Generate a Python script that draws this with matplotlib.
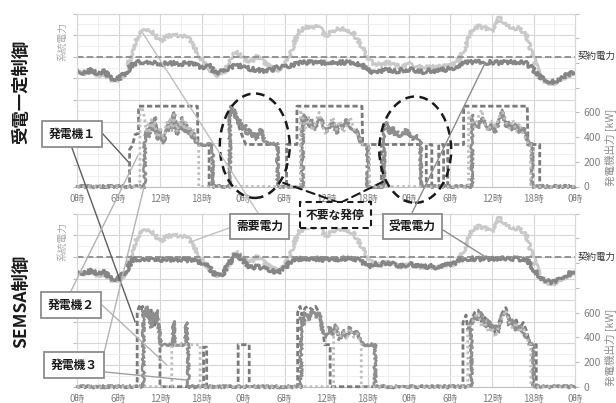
import matplotlib.pyplot as plt
from matplotlib.patches import ConnectionPatch, Ellipse

plt.rcParams['font.family'] = ['Noto Sans CJK JP', 'DejaVu Sans']

# hourly grid for the system-side traces (3 days)
HOURS = list(range(73))
TICK_HOURS = list(range(0, 73, 6))
TICK_LABELS = ['0時', '6時', '12時', '18時'] * 3 + ['0時']

CONTRACT = 1200  # contract power (system axis units)

# building demand, same for both control schemes
DEMAND = [1060, 1040, 1050, 1030, 1040, 980, 990, 1030, 1260, 1420,
          1450, 1430, 1340, 1390, 1400, 1390, 1380, 1290, 1180, 1100,
          1025, 1035, 1140, 1250, 1190, 1150, 1200, 1150, 1110, 1080,
          1110, 1260, 1430, 1470, 1480, 1470, 1390, 1440, 1460, 1450,
          1420, 1310, 1200, 1130, 1130, 1150, 1120, 1110, 1130, 1120,
          1100, 1110, 1100, 1120, 1120, 1150, 1270, 1430, 1480, 1470,
          1430, 1560, 1510, 1460, 1470, 1390, 1190, 1000, 960, 950,
          990, 1030, 1040]

# received power, constant-receiving control
RECV_TOP = [1080, 1050, 1075, 1040, 1065, 990, 1000, 1045, 1130, 1150,
            1155, 1150, 1130, 1140, 1140, 1135, 1140, 1125, 1100, 1125,
            1050, 1065, 1100, 1120, 1110, 1090, 1080, 1070, 1075, 1100,
            1110, 1120, 1140, 1150, 1145, 1150, 1140, 1150, 1145, 1150,
            1140, 1130, 1080, 1050, 1070, 1080, 1065, 1075, 1085, 1070,
            1060, 1075, 1065, 1080, 1090, 1110, 1140, 1150, 1150, 1145,
            1150, 1145, 1150, 1150, 1145, 1140, 1080, 1010, 980, 965,
            1000, 1040, 1050]

# received power, SEMSA control
RECV_BOT = [1070, 1050, 1070, 1045, 1060, 990, 1000, 1060, 1175, 1180,
            1185, 1180, 1175, 1180, 1175, 1180, 1170, 1160, 1150, 1110,
            1030, 1040, 1140, 1230, 1170, 1100, 1110, 1095, 1080, 1050,
            1100, 1160, 1180, 1180, 1185, 1180, 1175, 1180, 1180, 1185,
            1180, 1170, 1110, 1135, 1135, 1155, 1125, 1115, 1135, 1125,
            1105, 1115, 1105, 1125, 1125, 1155, 1180, 1185, 1180, 1185,
            1180, 1185, 1180, 1185, 1180, 1175, 1090, 1005, 975, 965,
            1000, 1045, 1055]

# generator outputs [kW], constant-receiving control
G1_TOP_T = [0, 7.6, 7.6, 8.0, 8.4, 8.9, 8.9, 17.4, 17.5, 19.1, 19.1,
            22.1, 22.1, 22.8, 23.6, 24.4, 29.1, 29.1, 30.3, 30.3, 31.8,
            31.8, 41.2, 41.3, 44.0, 44.0, 44.4, 44.4, 49.7, 49.7, 50.5,
            50.5, 51.3, 51.3, 52.3, 52.3, 53.0, 53.0, 53.6, 53.6, 55.9,
            55.9, 65.1, 65.2, 66.9, 66.9, 72]
G1_TOP_KW = [0, 0, 300, 330, 420, 430, 650, 650, 340, 340, 0,
             0, 600, 620, 450, 340, 340, 0, 0, 340, 340,
             650, 650, 340, 340, 0, 0, 340, 340, 0, 0,
             340, 340, 0, 0, 340, 340, 0, 0, 340, 340,
             650, 650, 340, 340, 0, 0]

G2_TOP_T = [0, 9.1, 9.1, 9.5, 9.75, 10.0, 10.25, 10.5, 10.75, 11.0,
            11.25, 11.5, 11.75, 12.0, 12.25, 12.5, 12.75, 13.0, 13.25, 13.5,
            13.75, 14.0, 14.25, 14.5, 14.75, 15.0, 15.25, 15.5, 15.75, 16.0,
            16.25, 16.5, 16.75, 17.0, 17.25, 17.6, 17.6,
            32.3, 32.3, 32.75, 33.0, 33.5, 34.0, 34.5, 35.0, 35.5, 36.0,
            36.5, 37.0, 37.5, 38.0, 38.5, 39.0, 39.5, 40.0, 40.5, 41.0,
            41.3, 42.3, 42.3,
            56.6, 56.6, 57.0, 57.5, 58.0, 58.5, 59.0, 59.5, 60.0, 60.5,
            61.0, 61.5, 62.0, 62.5, 63.0, 63.5, 64.0, 64.5, 65.0, 65.3,
            65.6, 65.6, 72]
G2_TOP_KW = [0, 0, 640, 620, 560, 450, 500, 430, 540, 470,
             520, 410, 400, 480, 430, 380, 450, 520, 480, 560,
             450, 580, 500, 440, 530, 480, 540, 460, 520, 450,
             490, 410, 470, 420, 380, 340, 0,
             0, 620, 540, 470, 560, 450, 520, 600, 480, 420,
             510, 560, 460, 530, 440, 500, 560, 470, 420, 380,
             340, 340, 0,
             0, 600, 540, 480, 560, 620, 500, 450, 530, 470,
             560, 600, 520, 470, 540, 450, 510, 420, 380, 340,
             340, 0, 0]

G3_TOP_T = [0, 9.8, 9.8, 10.0, 10.25, 10.5, 10.75, 11.0, 11.25, 11.5,
            11.75, 12.0, 12.25, 12.5, 12.75, 13.0, 13.25, 13.5, 13.75, 14.0,
            14.25, 14.5, 14.75, 15.0, 15.25, 15.5, 15.75, 16.0, 16.25, 16.5,
            16.75, 17.0, 17.25, 17.5, 19.6, 19.6,
            22.1, 22.1, 22.4, 22.7, 23.0, 23.3, 23.6, 24.0, 24.3, 24.6,
            25.0, 25.3, 25.6, 26.0, 26.3, 26.6, 27.0, 27.4, 29.0, 29.0,
            32.6, 32.6, 32.75, 33.0, 33.5, 34.0, 34.5, 35.0, 35.5, 36.0,
            36.5, 37.0, 37.5, 38.0, 38.5, 39.0, 39.5, 40.0, 40.5, 41.0,
            41.3, 42.0, 42.0,
            44.4, 44.4, 44.7, 45.0, 45.3, 45.6, 46.0, 46.3, 46.6, 47.0,
            47.3, 47.6, 48.0, 48.3, 48.6, 49.0, 49.3, 49.7, 49.7,
            57.1, 57.1, 57.5, 58.0, 58.5, 59.0, 59.5, 60.0, 60.5, 61.0,
            61.5, 62.0, 62.5, 63.0, 63.5, 64.0, 64.5, 65.0, 65.3, 65.8,
            65.8, 72]
G3_TOP_KW = [0, 0, 380, 420, 480, 400, 520, 450, 560, 430,
             380, 460, 400, 350, 420, 500, 450, 540, 470, 600,
             480, 420, 510, 460, 560, 440, 500, 430, 470, 390,
             450, 400, 360, 340, 340, 0,
             0, 620, 650, 560, 600, 500, 540, 460, 500, 420,
             460, 400, 430, 380, 440, 460, 380, 350, 340, 0,
             0, 560, 500, 580, 480, 540, 460, 560, 520, 440,
             480, 520, 430, 500, 470, 540, 480, 440, 460, 360,
             340, 340, 0,
             0, 480, 520, 460, 430, 480, 420, 450, 400, 440,
             420, 460, 400, 430, 380, 420, 390, 350, 0,
             0, 580, 520, 470, 560, 520, 460, 500, 440, 530,
             620, 480, 520, 460, 500, 440, 480, 400, 340, 340,
             0, 0]

# generator outputs [kW], SEMSA control
G1_BOT_T = [0, 8.7, 8.7, 9.0, 9.25, 9.5, 9.75, 10.0, 10.25, 10.5,
            10.75, 11.0, 11.25, 11.5, 11.75, 12.0, 12.0,
            18.3, 18.3, 18.75, 18.75,
            23.3, 23.3, 24.9, 24.9,
            31.9, 31.9, 32.25, 32.5, 33.0, 33.5, 34.0, 34.5, 35.0, 35.5,
            35.8, 36.6, 36.6,
            55.8, 55.8, 56.25, 56.5, 57.0, 57.5, 58.0, 58.5, 59.0, 59.5,
            60.0, 60.5, 61.0, 61.5, 62.0, 62.5, 63.0, 63.5, 64.0, 64.5,
            65.0, 65.5, 66.4, 66.4, 72]
G1_BOT_KW = [0, 0, 600, 650, 620, 650, 560, 640, 600, 520,
             620, 580, 480, 600, 540, 460, 0,
             0, 320, 320, 0,
             0, 340, 340, 0,
             0, 600, 650, 580, 640, 650, 620, 650, 600, 480,
             340, 340, 0,
             0, 520, 580, 460, 540, 600, 620, 520, 560, 470,
             500, 430, 520, 600, 640, 560, 500, 540, 460, 520,
             450, 340, 340, 0, 0]

G2_BOT_T = [0, 13.7, 13.7, 17.8, 17.8,
            37.1, 37.1, 37.5, 38.0, 38.5, 39.0, 39.5, 40.0, 40.5, 41.0,
            41.1, 41.1,
            56.5, 56.5, 57.0, 57.5, 58.0, 58.5, 59.0, 59.5, 60.0, 60.5,
            61.0, 61.5, 62.0, 62.5, 63.0, 63.5, 64.0, 64.5, 65.0, 65.3,
            65.6, 65.6, 72]
G2_BOT_KW = [0, 0, 340, 340, 0,
             0, 420, 480, 400, 440, 380, 470, 400, 430, 360,
             340, 0,
             0, 460, 500, 560, 600, 480, 520, 440, 480, 400,
             500, 560, 620, 520, 470, 520, 440, 480, 420, 340,
             340, 0, 0]

G3_BOT_T = [0, 9.6, 9.6, 9.75, 10.0, 10.25, 10.5, 10.75, 11.0, 11.25,
            11.5, 11.75, 12.0, 12.1, 13.9, 14.0, 14.1, 15.7, 15.8, 15.9,
            16.1, 16.1,
            32.4, 32.4, 32.75, 33.0, 33.5, 34.0, 34.5, 35.0, 35.5, 36.0,
            36.5, 37.0, 37.5, 38.0, 38.5, 39.0, 39.5, 40.0, 40.5, 41.0,
            41.3, 43.1, 43.1,
            57.0, 57.0, 57.5, 58.0, 58.5, 59.0, 59.5, 60.0, 60.5, 61.0,
            61.5, 62.0, 62.5, 63.0, 63.5, 64.0, 64.5, 65.0, 65.5, 66.0,
            66.0, 72]
G3_BOT_KW = [0, 0, 620, 580, 650, 560, 620, 480, 600, 540,
             620, 500, 400, 340, 340, 530, 340, 340, 520, 340,
             340, 0,
             0, 560, 500, 600, 540, 620, 560, 600, 450, 400,
             480, 420, 500, 380, 460, 400, 480, 420, 450, 370,
             340, 340, 0,
             0, 500, 580, 540, 600, 480, 540, 460, 500, 440,
             580, 600, 500, 540, 460, 500, 440, 400, 340, 340,
             0, 0]

W, H = 616, 403
GRAY_TXT = '#7f7f7f'


def px_rect(left, top, right, bottom):
    return [left / W, 1 - bottom / H, (right - left) / W, (bottom - top) / H]


def make_panel(fig, rect, recv, gens):
    ax = fig.add_axes(rect)        # system power (left, unlabeled)
    ax2 = ax.twinx()               # generator output (right)

    ax.set_xlim(0, 72)
    ax.set_ylim(0, 1600)
    ax.set_xticks(TICK_HOURS)
    ax.set_xticklabels(TICK_LABELS)
    ax.set_xticks(range(0, 73, 3), minor=True)
    ax.set_yticks(range(0, 1601, 200))
    ax.set_yticks(range(0, 1601, 100), minor=True)
    ax.set_yticklabels([])
    ax.tick_params(axis='x', which='both', length=0, labelsize=7,
                   labelcolor=GRAY_TXT, pad=5.5)
    ax.tick_params(axis='y', which='major', length=3, color='#bfbfbf')
    ax.tick_params(axis='y', which='minor', length=0)
    ax.grid(which='major', color='#d6d6d6', lw=0.8)
    ax.grid(which='minor', color='#ececec', lw=0.6)
    ax.set_axisbelow(True)

    for side in ('left', 'right', 'top'):
        ax.spines[side].set_color('#d9d9d9')
        ax2.spines[side].set_color('#d9d9d9')
    ax.spines['bottom'].set_color('#bfbfbf')
    ax2.spines['bottom'].set_visible(False)

    dem, = ax.plot(HOURS, DEMAND, color='#c9c9c9', lw=2.0, zorder=3)
    rec, = ax.plot(HOURS, recv, color='#858585', lw=2.2, zorder=4)
    dem.set_sketch_params(1.8, 2.2, 16)
    rec.set_sketch_params(2.0, 2.0, 16)
    ax.axhline(CONTRACT, color='#8c8c8c', lw=1.3, ls=(0, (3.6, 1.8)), zorder=5)
    ax.text(1.005, CONTRACT, '契約電力', transform=ax.get_yaxis_transform(),
            ha='left', va='center', fontsize=6.8, color='#333333')
    ax.text(-0.03, 0.84, '系統電力', transform=ax.transAxes, rotation=90,
            ha='center', va='center', fontsize=7, color='#ababab')

    ax2.set_ylim(0, 1400)
    ax2.set_yticks(range(0, 1401, 200))
    ax2.set_yticklabels(['0', '200', '400', '600', '', '', '', ''])
    ax2.tick_params(axis='y', length=3, color='#bfbfbf', labelsize=7.5,
                    labelcolor=GRAY_TXT, pad=3)
    ax2.set_ylabel('発電機出力 [kW]', fontsize=7.6, color='#8c8c8c', rotation=90)
    ax2.yaxis.set_label_coords(1.059, 0.225)

    (g1t, g1k), (g2t, g2k), (g3t, g3k) = gens
    ax2.plot(g1t, g1k, color='#7a7a7a', lw=2.0, ls=(0, (1.9, 1.0)),
             clip_on=False, zorder=3)
    g3, = ax2.plot(g3t, g3k, color='#8e8e8e', lw=1.8, clip_on=False, zorder=4)
    g3.set_sketch_params(1.4, 2.0, 12)
    ax2.plot(g2t, g2k, color='#bdbdbd', lw=2.0, ls=(0, (0.9, 1.1)),
             clip_on=False, zorder=5)
    return ax, ax2


fig = plt.figure(figsize=(W / 100, H / 100), dpi=100)

ax_t, ax_t2 = make_panel(fig, px_rect(77, 13.5, 575, 186.5), RECV_TOP,
                         [(G1_TOP_T, G1_TOP_KW), (G2_TOP_T, G2_TOP_KW),
                          (G3_TOP_T, G3_TOP_KW)])
ax_b, ax_b2 = make_panel(fig, px_rect(77, 213.7, 575, 386.7), RECV_BOT,
                         [(G1_BOT_T, G1_BOT_KW), (G2_BOT_T, G2_BOT_KW),
                          (G3_BOT_T, G3_BOT_KW)])

# panel titles
fig.text(21 / W, 1 - 92 / H, '受電一定制御', rotation=90, ha='center',
         va='center', fontsize=12.5, fontweight='bold', color='#1a1a1a')
fig.text(21 / W, 1 - 301 / H, 'SEMSA制御', rotation=90, ha='center',
         va='center', fontsize=12.5, fontweight='bold', color='#1a1a1a')

# start/stop events circled in the constant-receiving panel
for cx, cy, ew, eh in [(25.7, 330, 10.1, 845), (48.9, 298, 10.4, 860)]:
    ax_t2.add_patch(Ellipse((cx, cy), ew, eh, fill=False, ec='#1a1a1a',
                            lw=1.8, ls=(0, (3.5, 2.2)), clip_on=False,
                            zorder=10))


def leader(px, py, ax, xy, color, ls='-', lw=1.0):
    cp = ConnectionPatch(xyA=(px, H - py), coordsA='figure pixels',
                         xyB=xy, coordsB=ax.transData, color=color,
                         lw=lw, ls=ls, zorder=20)
    fig.add_artist(cp)


def callout(cx, cy, text, dashed=False):
    if dashed:
        box = dict(boxstyle='square,pad=0.55', fc='white', ec='#1a1a1a',
                   lw=1.5, ls=(0, (3, 2)))
    else:
        box = dict(boxstyle='square,pad=0.55', fc='white', ec='#8c8c8c',
                   lw=1.3)
    fig.text(cx / W, 1 - cy / H, text, ha='center', va='center',
             fontsize=8.5, fontweight='bold', color='#1a1a1a', bbox=box,
             zorder=30)


leader(102, 133, ax_t2, (7.4, 200), '#5e5e5e')
leader(72, 148, ax_b2, (8.4, 525), '#5e5e5e')
leader(70, 293, ax_t2, (8.8, 250), '#b3b3b3')
leader(102, 305, ax_b2, (13.0, 176), '#b3b3b3')
leader(104, 353, ax_t2, (9.7, 0), '#b3b3b3')
leader(105, 372, ax_b2, (15.9, 54), '#a0a0a0')
leader(258, 213, ax_t, (9.5, 1420), '#bfbfbf')
leader(229, 228, ax_b, (16.3, 1336), '#bfbfbf')
leader(412, 213, ax_t, (59.0, 1142), '#8c8c8c')
leader(443, 230, ax_b, (59.3, 1190), '#8c8c8c')
leader(340, 203, ax_t2, (29.8, 30), '#1a1a1a', ls=(0, (4, 2.5)), lw=1.5)
leader(340, 203, ax_t2, (44.2, 38), '#1a1a1a', ls=(0, (4, 2.5)), lw=1.5)

callout(72, 134, '発電機１')
callout(71, 305, '発電機２')
callout(74, 365, '発電機３')
callout(259.5, 226.5, '需要電力')
callout(412.5, 226.5, '受電電力')
callout(335.5, 215, '不要な発停', dashed=True)

fig.savefig('out.png', dpi=100)
